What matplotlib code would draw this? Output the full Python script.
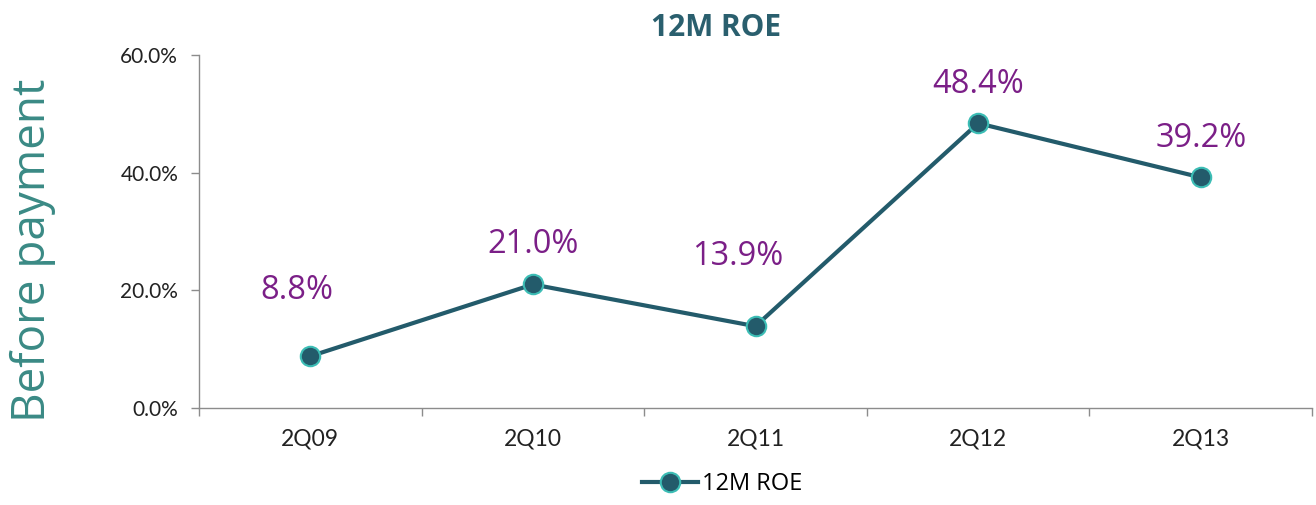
import matplotlib.pyplot as plt
import numpy as np
from matplotlib.ticker import FuncFormatter

# data
quarters = ['2Q09', '2Q10', '2Q11', '2Q12', '2Q13']
roe = [8.8, 21.0, 13.9, 48.4, 39.2]
label_txt = ['8.8%', '21.0%', '13.9%', '48.4%', '39.2%']
yticks = [0, 20, 40, 60]

line_col = '#235B6B'
edge_col = '#3CBDB5'
lab_col = '#7B1F87'
grey = '#8C8C8C'

fig = plt.figure(figsize=(13.16, 5.05), dpi=100)
ax = fig.add_axes([199/1316, 1-408/505, 1113/1316, 353/505])

x = np.arange(len(quarters))
ax.plot(x, roe, color=line_col, lw=3, marker='o', ms=14,
        mfc=line_col, mec=edge_col, mew=1.5, label='12M ROE')

# data labels, offsets in points
offs = [(-10, 47), (0, 29), (-13, 50), (0, 28), (0, 28)]
for xi, v, t, o in zip(x, roe, label_txt, offs):
    ax.annotate(t, (xi, v), xytext=o, textcoords='offset points',
                ha='center', va='center', fontsize=23.5, color=lab_col,
                family='Open Sans')

ax.set_xlim(-0.5, 4.5)
ax.set_ylim(0, 60)
ax.set_yticks(yticks)
ax.yaxis.set_major_formatter(FuncFormatter(lambda v, p: f'{v:.1f}%'))
ax.set_xticks(x)
ax.set_xticklabels(quarters)
ax.set_xticks(np.arange(-0.5, 5, 1), minor=True)
ax.tick_params(axis='x', which='major', length=0, pad=15, labelsize=16.5)
ax.tick_params(axis='x', which='minor', length=6, color=grey, width=1)
ax.tick_params(axis='y', length=6, color=grey, width=1, labelsize=15, pad=9)
for lab in ax.get_xticklabels() + ax.get_yticklabels():
    lab.set_family('Lato')
    lab.set_color('#222222')

for s in ['top', 'right']:
    ax.spines[s].set_visible(False)
ax.spines['left'].set_color(grey)
ax.spines['bottom'].set_color(grey)
ax.spines['left'].set_linewidth(1)
ax.spines['bottom'].set_linewidth(1)

fig.text(716/1316, 1-28/505, '12M ROE', ha='center', va='center',
         fontsize=21.5, fontweight='bold', color='#2A5F6E', family='Open Sans')
fig.text(33/1316, 1-250/505, 'Before payment', rotation=90, ha='center',
         va='center', fontsize=33, color='#3A8A85', family='Open Sans')

fig.legend(loc='center', bbox_to_anchor=(722/1316, 1-484/505), frameon=False,
           handlelength=2.4, handletextpad=0.15,
           prop={'family': 'Open Sans', 'size': 17})

fig.savefig('out.png', dpi=100)
